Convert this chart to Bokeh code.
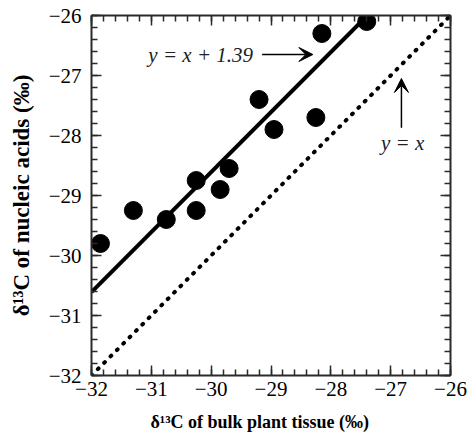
from bokeh.plotting import figure
from bokeh.models import (LinearAxis, SingleIntervalTicker, Range1d, Arrow, VeeHead,
                          Label, ColumnDataSource)
from bokeh.embed import file_html
from bokeh.resources import INLINE

# ---- data ----
bulk_tissue = [-31.85, -31.3, -30.75, -30.25, -30.25, -29.85, -29.7, -29.2, -28.95, -28.25, -28.15, -27.4]
nucleic_acids = [-29.8, -29.25, -29.4, -28.75, -29.25, -28.9, -28.55, -27.4, -27.9, -27.7, -26.3, -26.1]
fit_intercept = 1.39
axis_min, axis_max = -32, -26
tick_values = [-32, -31, -30, -29, -28, -27, -26]
tick_labels = ["\u221232", "\u221231", "\u221230", "\u221229", "\u221228", "\u221227", "\u221226"]
fit_label = "y = x + 1.39"
identity_label = "y = x"
x_title = "\u03b4\u00b9\u00b3C  of  bulk  plant  tissue  (\u2030)"
y_title = "\u03b4\u00b9\u00b3C of nucleic acids (\u2030)"

# fitted line from left edge to where it reaches the top
fit_x = [axis_min, axis_max - fit_intercept]
fit_y = [v + fit_intercept for v in fit_x]
ident_x = [axis_min, axis_max]
ident_y = [axis_min, axis_max]

FONT = "Liberation Serif"
AX = "#2a2a2a"

p = figure(width=474, height=440, output_backend="svg", toolbar_location=None,
           x_range=Range1d(axis_min, axis_max), y_range=Range1d(axis_min, axis_max),
           x_axis_location=None, y_axis_location=None,
           min_border_left=91, min_border_right=24, min_border_top=15, min_border_bottom=65)
p.grid.visible = False
p.outline_line_color = None
p.background_fill_color = "white"
p.border_fill_color = "white"

overrides = {v: t for v, t in zip(tick_values, tick_labels)}
blank = {v: "" for v in tick_values}


def style(ax, labels=True):
    ax.ticker = SingleIntervalTicker(interval=1, num_minor_ticks=5)
    ax.axis_line_width = 2
    ax.axis_line_color = AX
    ax.major_tick_line_color = AX
    ax.minor_tick_line_color = AX
    ax.major_tick_line_width = 1.5
    ax.minor_tick_line_width = 1.5
    ax.major_tick_in = 10
    ax.major_tick_out = 0
    ax.minor_tick_in = 6
    ax.minor_tick_out = 0
    if labels:
        ax.major_label_overrides = overrides
        ax.major_label_text_font = FONT
        ax.major_label_text_font_size = "21px"
        ax.major_label_text_color = "black"
        ax.axis_label_text_font = FONT
        ax.axis_label_text_font_style = "bold"
        ax.axis_label_text_color = "black"
    else:
        ax.major_label_overrides = blank
        ax.major_label_text_font_size = "0px"
        ax.major_label_standoff = 0
        ax.axis_label_standoff = 0


bottom = LinearAxis(axis_label=x_title)
style(bottom)
bottom.major_label_standoff = 6
bottom.axis_label_standoff = 13
bottom.axis_label_text_font_size = "18px"
p.add_layout(bottom, "below")

left = LinearAxis(axis_label=y_title)
style(left)
left.major_label_standoff = 10
left.axis_label_standoff = 12
left.axis_label_text_font_size = "23px"
p.add_layout(left, "left")

top = LinearAxis()
style(top, labels=False)
p.add_layout(top, "above")

right = LinearAxis()
style(right, labels=False)
p.add_layout(right, "right")

# identity line (dotted)
p.line(ident_x, ident_y, line_color="black", line_width=4, line_dash="1 8", line_cap="round")
# fitted line
p.line(fit_x, fit_y, line_color="black", line_width=4)
# points
src = ColumnDataSource(dict(x=bulk_tissue, y=nucleic_acids))
p.scatter("x", "y", source=src, size=18, fill_color="black", line_color="black")

# annotations
p.add_layout(Label(x=-29.3, y=-26.65, text=fit_label, text_align="right", text_baseline="middle",
                   text_font=FONT, text_font_style="italic", text_font_size="21px", text_color="#222"))
p.add_layout(Arrow(x_start=-29.15, y_start=-26.65, x_end=-28.3, y_end=-26.65, line_width=1.5,
                   end=VeeHead(size=14, fill_color="black", line_color="black")))
p.add_layout(Label(x=-26.8, y=-28.13, text=identity_label, text_align="center", text_baseline="middle",
                   text_font=FONT, text_font_style="italic", text_font_size="21px", text_color="#222"))
p.add_layout(Arrow(x_start=-26.82, y_start=-27.87, x_end=-26.82, y_end=-27.05, line_width=1.5,
                   end=VeeHead(size=14, fill_color="black", line_color="black")))

open("out.html", "w").write(file_html(p, INLINE))
